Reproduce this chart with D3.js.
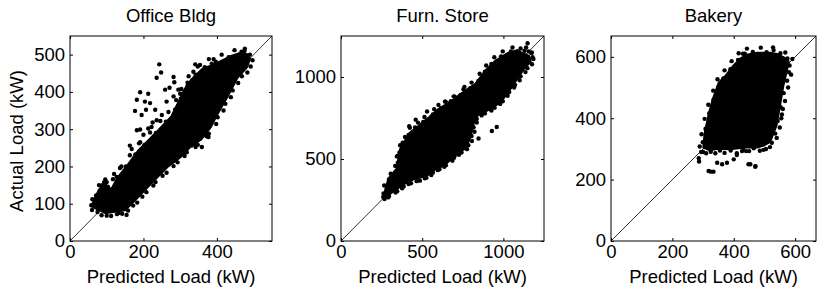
<!DOCTYPE html>
<html><head><meta charset="utf-8">
<script src="https://cdn.jsdelivr.net/npm/d3@7"></script>
<style>
body{margin:0;background:#fff;}
svg{display:block;font-family:"Liberation Sans",Arial,Helvetica,sans-serif;}
</style></head>
<body><svg id="chart" width="817" height="292"></svg>
<script>
// ---------- data (kW) ----------
const titles = ["Office Bldg", "Furn. Store", "Bakery"];
const axisMax = [550, 1250, 668];
const officeTicks = [0, 200, 400];
const officeTicksY = [0, 100, 200, 300, 400, 500];
const furnTicks = [0, 500, 1000];
const furnTicksY = [0, 500, 1000];
const bakeryTicks = [0, 200, 400, 600];
const bakeryTicksY = [0, 200, 400, 600];

// dense part of each cloud: outline [predicted, actual]
const officeCore = [[58,93],[62,104],[77,136],[92,156],[112,140],[130,172],[159,208],[186,244],[213,271],[241,299],[275,334],[293,370],[311,407],[330,434],[358,461],[403,480],[440,498],[466,506],[483,502],[491,490],[483,466],[457,438],[429,386],[402,340],[384,305],[357,271],[329,253],[302,225],[266,198],[239,171],[211,143],[176,107],[150,82],[123,78],[96,74],[70,86]];
const furnCore = [[262,270],[272,318],[290,380],[340,440],[362,560],[420,660],[473,700],[541,755],[594,802],[683,857],[764,918],[825,958],[886,1038],[946,1098],[1028,1148],[1088,1166],[1109,1152],[1160,1130],[1170,1095],[1125,1044],[1084,985],[1044,925],[985,846],[922,805],[843,765],[820,720],[800,640],[772,565],[720,536],[635,458],[582,436],[533,398],[440,372],[382,342],[322,300],[282,272]];
const bakeryCore = [[300,304],[304,350],[318,416],[330,460],[350,516],[372,538],[398,572],[422,596],[442,608],[476,614],[520,614],[541,610],[570,596],[580,585],[575,560],[562,503],[551,438],[540,376],[519,322],[498,310],[476,304],[435,304],[389,298],[348,300],[322,295]];

// scattered points outside / along the dense part
const officeDots = [[243,474],[248,452],[236,438],[282,440],[284,426],[259,406],[271,411],[191,399],[213,395],[204,374],[218,370],[182,379],[177,349],[207,352],[232,352],[263,374],[282,388],[295,406],[250,338],[277,329],[182,297],[191,299],[213,302],[163,256],[168,247],[191,265],[222,306],[341,474],[354,472],[391,488],[386,476],[336,454],[236,324],[195,338],[132,75],[154,70],[331,256],[359,252],[377,279],[341,261],[96,165],[100,158],[88,150],[120,180],[140,200],[200,285],[225,318],[300,395],[320,425],[460,500],[475,510],
  [61,112],[71,122],[79,150],[93,158],[103,146],[117,166],[127,172],[136,196],[152,200],[163,230],[178,232],[188,262],[203,258],[218,291],[234,290],[246,322],[261,320],[268,346],[286,352],[289,378],[302,382],[303,408],[320,416],[323,442],[342,446],[348,468],[367,466],[378,488],[397,481],[413,500],[432,493],[448,512],[467,508],[476,516],[490,500],
  [497,485],[492,468],[483,452],[468,442],[458,424],[443,404],[438,386],[423,368],[418,350],[402,332],[398,314],[378,288],[372,281],[348,258],[342,252],[318,238],[312,228],[293,211],[282,201],[263,183],[252,175],[233,158],[227,149],[208,131],[197,119],[183,103],[172,95],[158,82],[142,73],[128,72],[112,67],[100,68],[86,69],[75,78],[60,83],[58,96]];
const furnDots = [[1149,1206],[959,695],[929,671],[847,625],[1140,1180],[1175,1150],[1180,1120],[380,600],[420,700],[460,740],[530,790],[600,830],[640,850],[350,520],[700,880],[760,940],[300,380],[560,420],[700,520],
  [262,290],[266,338],[296,376],[306,410],[334,418],[334,458],[350,478],[344,516],[360,540],[364,584],[390,596],[394,634],[416,646],[424,690],[456,692],[474,722],[506,726],[514,756],[566,772],[574,804],[616,810],[644,850],[676,852],[694,882],[736,890],[754,926],[796,932],[804,966],[846,976],[854,1020],[886,1032],[894,1070],[926,1080],[944,1120],[986,1126],[996,1156],[1046,1156],[1056,1180],[1106,1174],[1130,1160],[1156,1156],[1172,1146],[1185,1110],
  [1176,1078],[1148,1054],[1136,1030],[1106,1004],[1100,980],[1072,952],[1066,936],[1036,908],[1026,886],[996,852],[980,836],[946,812],[926,796],[886,778],[866,766],[836,744],[836,722],[816,694],[822,666],[804,640],[806,610],[784,584],[776,560],[742,540],[726,526],[696,508],[686,490],[646,462],[636,452],[606,438],[596,432],[566,418],[556,402],[526,385],[516,382],[486,368],[466,365],[431,352],[416,348],[386,332],[376,322],[346,304],[336,296],[296,274],[290,266],[268,256],[260,268]];
const bakeryDots = [[318,228],[325,226],[334,226],[286,270],[287,259],[448,250],[470,242],[427,293],[440,293],[543,500],[346,255],[362,250],[378,255],[400,266],[454,250],[471,244],[300,290],[560,430],[555,400],[580,550],[530,622],[430,610],[330,380],[310,330],[410,280],[505,300],
  [294,290],[289,308],[299,322],[295,348],[308,366],[305,398],[320,416],[317,444],[334,460],[333,490],[349,500],[347,527],[366,530],[370,556],[389,560],[393,586],[414,590],[416,612],[436,610],[443,627],[462,616],[488,630],[507,615],[528,631],[552,612],[568,614],[575,595],[591,593],[582,572],[587,542],[574,522],[577,500],[563,482],[567,456],[553,436],[557,412],[543,391],[550,370],[535,350],[540,336],[524,320],[518,306],[497,297],[485,294],[465,302],[450,293],[430,301],[410,286],[390,295],[370,287],[355,295],[340,286],[325,291],[310,286]];

const cores = [officeCore, furnCore, bakeryCore];
const dots = [officeDots, furnDots, bakeryDots];
const ticksX = [officeTicks, furnTicks, bakeryTicks];
const ticksY = [officeTicksY, furnTicksY, bakeryTicksY];

// ---------- layout ----------
const boxes = [{x0:70,x1:272},{x0:341,x1:544},{x0:611,x1:816}];
const yTop = 36, yBot = 241;
const svg = d3.select("#chart");

boxes.forEach((b, i) => {
  const xs = d3.scaleLinear().domain([0, axisMax[i]]).range([b.x0, b.x1]);
  const ys = d3.scaleLinear().domain([0, axisMax[i]]).range([yBot, yTop]);
  const g = svg.append("g");

  // diagonal
  g.append("line")
    .attr("x1", xs(0)).attr("y1", ys(0))
    .attr("x2", xs(axisMax[i])).attr("y2", ys(axisMax[i]))
    .attr("stroke", "#000").attr("stroke-width", 0.8);

  // dense core
  const line = d3.line().x(d => xs(d[0])).y(d => ys(d[1])).curve(d3.curveLinearClosed);
  g.append("path").attr("d", line(cores[i]))
    .attr("fill", "#000").attr("stroke", "#000")
    .attr("stroke-width", 1.5).attr("stroke-linejoin", "round");
  g.selectAll("circle.out").data(dots[i]).enter().append("circle")
    .attr("cx", d => xs(d[0])).attr("cy", d => ys(d[1])).attr("r", 2.2).attr("fill", "#000");

  // axes (ticks inward, mirrored)
  g.append("g").attr("transform", `translate(0,${yBot})`)
    .call(d3.axisBottom(xs).tickValues(ticksX[i]).tickSize(-3).tickPadding(4).tickFormat(d3.format("d")));
  g.append("g").attr("transform", `translate(${b.x0},0)`)
    .call(d3.axisLeft(ys).tickValues(ticksY[i]).tickSize(-3).tickPadding(5).tickFormat(d3.format("d")));
  g.append("g").attr("transform", `translate(0,${yTop})`)
    .call(d3.axisTop(xs).tickValues(ticksX[i]).tickSize(-3).tickFormat(""));
  g.append("g").attr("transform", `translate(${b.x1},0)`)
    .call(d3.axisRight(ys).tickValues(ticksY[i]).tickSize(-3).tickFormat(""));
  g.selectAll(".domain").remove();
  g.selectAll(".tick line").attr("stroke", "#000");
  g.selectAll(".tick text").attr("font-size", 18.5).attr("fill", "#000")
    .attr("font-family", "Liberation Sans, Arial, sans-serif");

  // frame
  g.append("rect").attr("x", b.x0).attr("y", yTop)
    .attr("width", b.x1 - b.x0).attr("height", yBot - yTop)
    .attr("fill", "none").attr("stroke", "#000").attr("stroke-width", 1);

  // title & x label
  const cx = (b.x0 + b.x1) / 2;
  g.append("text").attr("x", cx).attr("y", 22).attr("text-anchor", "middle")
    .attr("font-size", 18.5).text(titles[i]);
  g.append("text").attr("x", cx).attr("y", 283).attr("text-anchor", "middle")
    .attr("font-size", 18.5).text("Predicted Load (kW)");
});

svg.append("text").attr("transform", "translate(23,141) rotate(-90)")
  .attr("text-anchor", "middle").attr("font-size", 18.5).text("Actual Load (kW)");
</script></body></html>
